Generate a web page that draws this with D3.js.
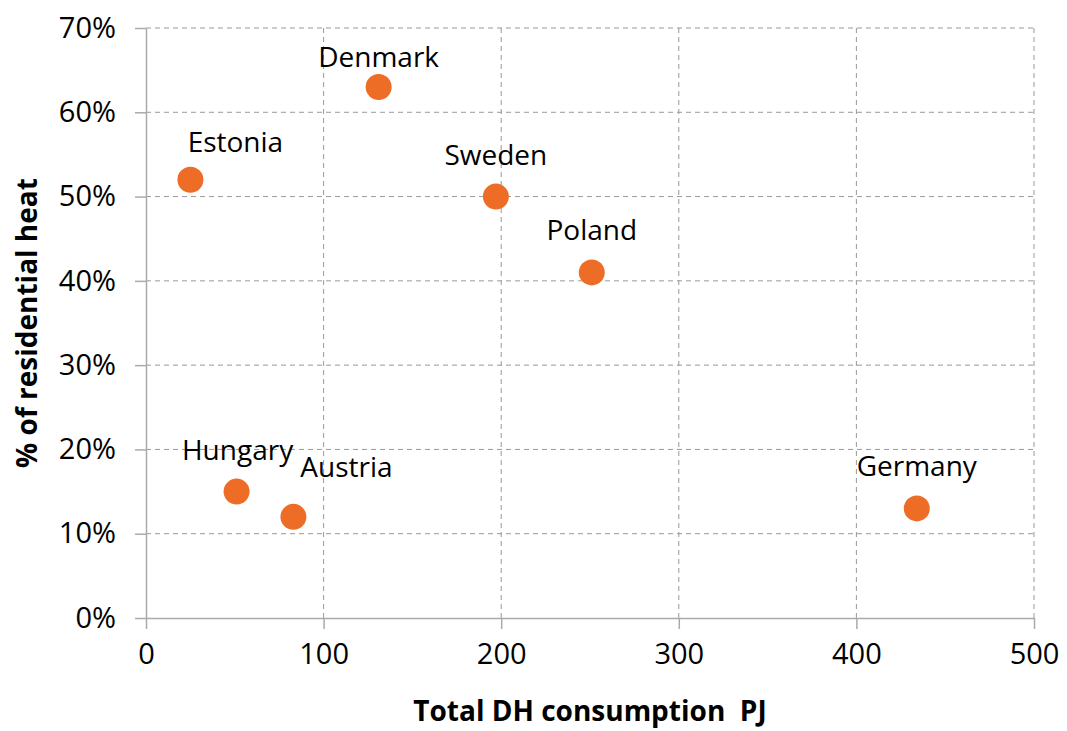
<!DOCTYPE html>
<meta charset="utf-8">
<script src="https://d3js.org/d3.v7.min.js"></script>
<style>
  body { margin: 0; background: #fff; }
  text { font-family: "Open Sans", sans-serif; fill: #000; }
</style>
<div id="my_dataviz"></div>
<script>

// data
var countries = ["Denmark", "Estonia", "Sweden", "Poland", "Hungary", "Austria", "Germany"];
var consumptionPJ = [131, 25, 197, 251, 51, 83, 434];
var residentialShare = [0.63, 0.52, 0.50, 0.41, 0.15, 0.12, 0.13];
var xTicks = [0, 100, 200, 300, 400, 500];
var yTicks = [0, 0.1, 0.2, 0.3, 0.4, 0.5, 0.6, 0.7];

// label nudges (layout only, px)
var labelNudge = { "Estonia": [45, 4], "Denmark": [0, 12], "Austria": [53, -8], "Hungary": [1, 0] };

var margin = {top: 28, right: 33, bottom: 113, left: 146},
    width = 1067 - margin.left - margin.right,
    height = 731 - margin.top - margin.bottom;

var svg = d3.select("#my_dataviz")
  .append("svg")
    .attr("width", 1067)
    .attr("height", 731)
  .append("g")
    .attr("transform", "translate(" + margin.left + "," + margin.top + ")");

var x = d3.scaleLinear().domain([0, 500]).range([0, width]);
var y = d3.scaleLinear().domain([0, 0.7]).range([height, 0]);

// grid
svg.append("g")
  .selectAll("line")
  .data(yTicks.slice(1))
  .enter().append("line")
    .attr("x1", 0).attr("x2", width)
    .attr("y1", function(d) { return y(d); })
    .attr("y2", function(d) { return y(d); })
    .attr("stroke", "#999").attr("stroke-dasharray", "5,4");

svg.append("g")
  .selectAll("line")
  .data(xTicks.slice(1))
  .enter().append("line")
    .attr("y1", 0).attr("y2", height)
    .attr("x1", function(d) { return x(d); })
    .attr("x2", function(d) { return x(d); })
    .attr("stroke", "#999").attr("stroke-dasharray", "5,4");

// axes
var xAxis = svg.append("g")
  .attr("transform", "translate(0," + height + ")")
  .call(d3.axisBottom(x).tickValues(xTicks).tickSize(11).tickPadding(14).tickSizeOuter(0));

var yAxis = svg.append("g")
  .call(d3.axisLeft(y).tickValues(yTicks).tickFormat(d3.format(".0%")).tickSize(11).tickPadding(19).tickSizeOuter(0));

[xAxis, yAxis].forEach(function(a) {
  a.select(".domain").attr("stroke", "#aaa").attr("stroke-width", 1.5);
  a.selectAll(".tick line").attr("stroke", "#aaa").attr("stroke-width", 1.5);
  a.selectAll(".tick text").style("font-size", "29px").attr("fill", "#000");
});

// points
var pts = countries.map(function(c, i) {
  return { name: c, x: consumptionPJ[i], y: residentialShare[i] };
});

svg.append("g")
  .selectAll("circle")
  .data(pts)
  .enter().append("circle")
    .attr("cx", function(d) { return x(d.x); })
    .attr("cy", function(d) { return y(d.y); })
    .attr("r", 13)
    .attr("fill", "#ED6D27");

svg.append("g")
  .selectAll("text")
  .data(pts)
  .enter().append("text")
    .attr("x", function(d) { return x(d.x) + (labelNudge[d.name] ? labelNudge[d.name][0] : 0); })
    .attr("y", function(d) { return y(d.y) - 32 + (labelNudge[d.name] ? labelNudge[d.name][1] : 0); })
    .attr("text-anchor", "middle")
    .style("font-size", "28px")
    .text(function(d) { return d.name; });

// axis titles
svg.append("text")
  .attr("transform", "translate(" + (width / 2) + "," + (height + 103) + ")")
  .style("text-anchor", "middle")
  .style("font-size", "28px")
  .style("font-weight", "bold")
  .text("Total DH consumption\u00a0 PJ");

svg.append("text")
  .attr("transform", "rotate(-90)")
  .attr("y", 0 - margin.left + 37)
  .attr("x", 0 - (height / 2))
  .style("text-anchor", "middle")
  .style("font-size", "28px")
  .style("font-weight", "bold")
  .text("% of residential heat");

</script>
